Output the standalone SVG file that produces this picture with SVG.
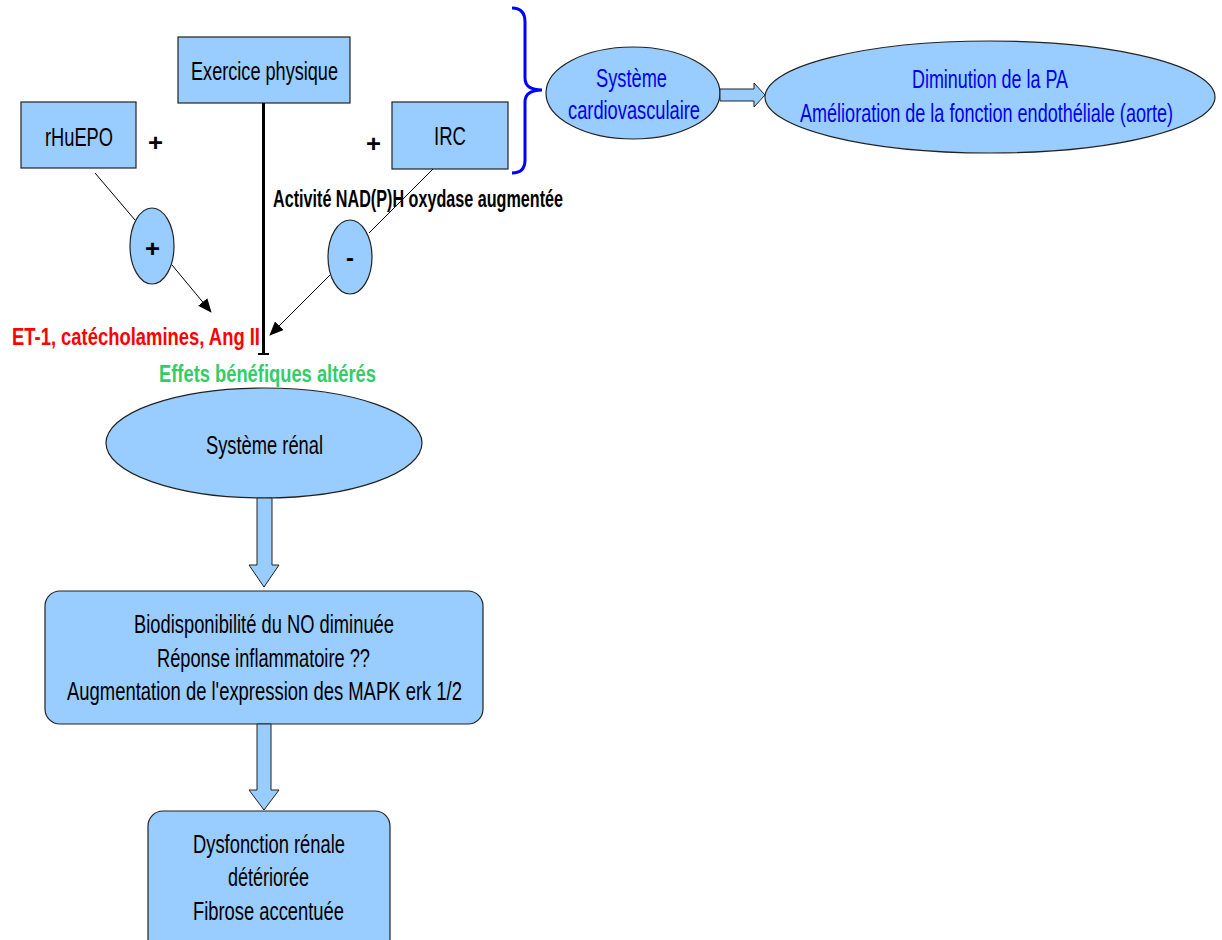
<svg xmlns="http://www.w3.org/2000/svg" width="1222" height="940" viewBox="0 0 1222 940">
<defs>
<style>
.n{fill:#99ccff;stroke:#222;stroke-width:1.2}
.t{font-family:"Liberation Sans",Arial,sans-serif;font-size:25px;fill:#000}
.b{font-weight:bold;font-size:23px}
.c{fill:#0000ee}
.l{stroke:#000;stroke-width:1;fill:none}
.ba{fill:#99ccff;stroke:#222;stroke-width:1}
</style>
<marker id="ah" markerWidth="14" markerHeight="12" refX="13" refY="6" orient="auto" markerUnits="userSpaceOnUse"><path d="M0,0 L14,6 L0,12 Z" fill="#000"/></marker>
</defs>
<rect width="1222" height="940" fill="#fff"/>
<g id="exercice"><rect class="n" x="178" y="37" width="172" height="66"/><text class="t" x="191" y="80" textLength="147" lengthAdjust="spacingAndGlyphs">Exercice physique</text></g>
<g id="rhuepo"><rect class="n" x="21" y="102" width="115" height="66"/><text class="t" x="45" y="146" textLength="68" lengthAdjust="spacingAndGlyphs">rHuEPO</text></g>
<g id="irc"><rect class="n" x="392" y="102" width="116" height="67"/><text class="t" x="434" y="145" textLength="32" lengthAdjust="spacingAndGlyphs">IRC</text></g>
<g id="plus1"><text class="t b" x="148" y="151" textLength="15" lengthAdjust="spacingAndGlyphs">+</text></g>
<g id="plus2"><text class="t b" x="366" y="152" textLength="15" lengthAdjust="spacingAndGlyphs">+</text></g>
<g id="cardio"><ellipse class="n" cx="633" cy="93" rx="87" ry="46"/><text class="t c" x="596" y="87" textLength="71" lengthAdjust="spacingAndGlyphs">Système</text><text class="t c" x="568" y="119" textLength="132" lengthAdjust="spacingAndGlyphs">cardiovasculaire</text></g>
<g id="diminution"><ellipse class="n" cx="990" cy="97" rx="225" ry="56"/><text class="t c" x="912" y="88" textLength="156" lengthAdjust="spacingAndGlyphs">Diminution de la PA</text><text class="t c" x="800" y="122" textLength="373" lengthAdjust="spacingAndGlyphs">Amélioration de la fonction endothéliale (aorte)</text></g>
<g id="plusnode"><ellipse class="n" cx="152" cy="246" rx="22" ry="38"/><text class="t b" x="145" y="257" textLength="15" lengthAdjust="spacingAndGlyphs">+</text></g>
<g id="minusnode"><ellipse class="n" cx="350" cy="257" rx="22" ry="37"/><text class="t b" x="346" y="266" textLength="8" lengthAdjust="spacingAndGlyphs">-</text></g>
<g id="renal"><ellipse class="n" cx="264" cy="443" rx="158" ry="55"/><text class="t" x="206" y="454" textLength="117" lengthAdjust="spacingAndGlyphs">Système rénal</text></g>
<g id="bio"><rect class="n" x="45" y="591" width="438" height="133" rx="15"/><text class="t" x="134" y="633" textLength="260" lengthAdjust="spacingAndGlyphs">Biodisponibilité du NO diminuée</text><text class="t" x="157" y="667" textLength="213" lengthAdjust="spacingAndGlyphs">Réponse inflammatoire ??</text><text class="t" x="67" y="700" textLength="395" lengthAdjust="spacingAndGlyphs">Augmentation de l'expression des MAPK erk 1/2</text></g>
<g id="dysfonction"><rect class="n" x="148" y="811" width="242" height="160" rx="15"/><text class="t" x="193" y="853" textLength="152" lengthAdjust="spacingAndGlyphs">Dysfonction rénale</text><text class="t" x="228" y="886" textLength="81" lengthAdjust="spacingAndGlyphs">détériorée</text><text class="t" x="193" y="920" textLength="151" lengthAdjust="spacingAndGlyphs">Fibrose accentuée</text></g>
<g id="labels">
<text class="t b" x="273" y="207" textLength="290" lengthAdjust="spacingAndGlyphs">Activité NAD(P)H oxydase augmentée</text>
<text class="t b" x="12" y="345" textLength="248" lengthAdjust="spacingAndGlyphs" style="fill:#ff0000">ET-1, catécholamines, Ang II</text>
<text class="t b" x="159" y="382" textLength="217" lengthAdjust="spacingAndGlyphs" style="fill:#33cc66">Effets bénéfiques altérés</text>
</g>
<g id="connectors">
<path d="M512,8 Q525,8 525,22 L525,78 Q525,90 542,90 Q525,90 525,102 L525,160 Q525,173 512,173" fill="none" stroke="#0000ff" stroke-width="3"/>
<path class="ba" d="M720,89 L754,89 L754,83 L765,95 L754,107 L754,101 L720,101 Z"/>
<line x1="263.5" y1="103" x2="263.5" y2="354" stroke="#000" stroke-width="3"/>
<line x1="258" y1="354" x2="269" y2="354" stroke="#000" stroke-width="2"/>
<line class="l" x1="95" y1="173" x2="135" y2="220"/>
<line class="l" x1="172" y1="265" x2="211" y2="312" marker-end="url(#ah)"/>
<line class="l" x1="433" y1="169" x2="369" y2="233"/>
<line class="l" x1="330" y1="275" x2="270" y2="335" marker-end="url(#ah)"/>
<path class="ba" d="M257,498 L272,498 L272,565 L279,565 L264,587 L249,565 L257,565 Z"/>
<path class="ba" d="M257,724 L271,724 L271,790 L279,790 L264,810 L249,790 L257,790 Z"/>
</g>
</svg>
